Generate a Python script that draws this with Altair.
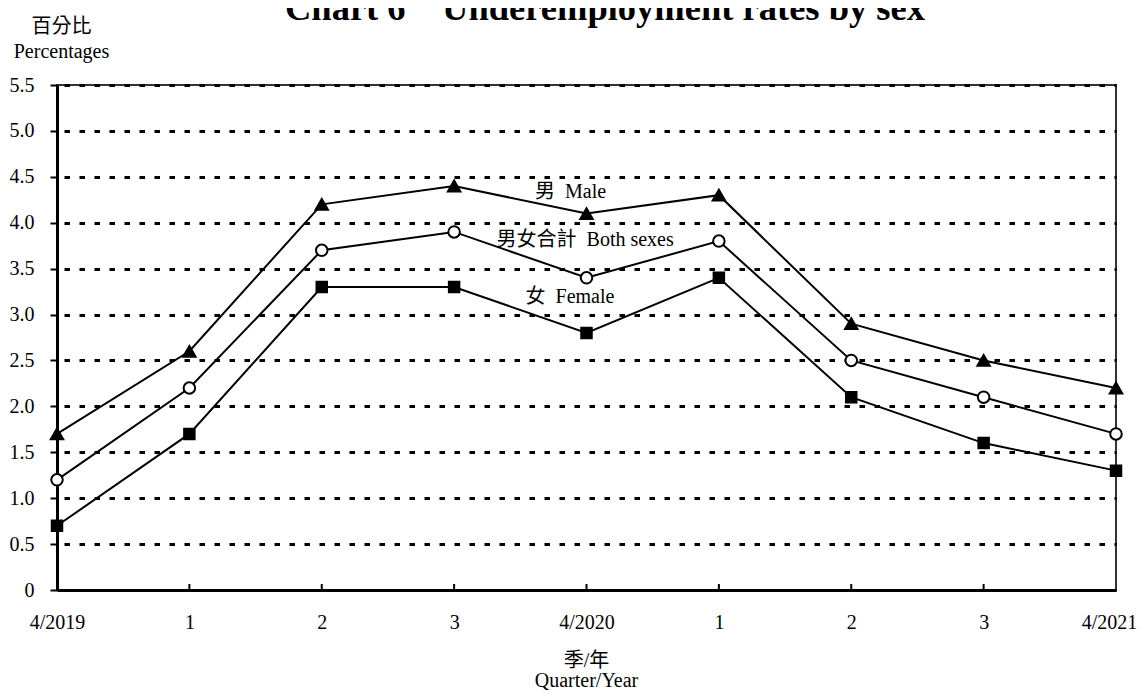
import json
import altair as alt
import pandas as pd

# ---- data ----
quarters = ["4/2019", "1", "2", "3", "4/2020", "1", "2", "3", "4/2021"]
male = [1.7, 2.6, 4.2, 4.4, 4.1, 4.3, 2.9, 2.5, 2.2]
both = [1.2, 2.2, 3.7, 3.9, 3.4, 3.8, 2.5, 2.1, 1.7]
female = [0.7, 1.7, 3.3, 3.3, 2.8, 3.4, 2.1, 1.6, 1.3]
series_names = ["Male", "Both sexes", "Female"]
y_ticks = [0, 0.5, 1.0, 1.5, 2.0, 2.5, 3.0, 3.5, 4.0, 4.5, 5.0, 5.5]

label_texts = ["男\u00a0\u00a0Male", "男女合計\u00a0\u00a0Both sexes", "女\u00a0\u00a0Female"]
label_x = [3.88, 3.99, 3.875]
label_y = [4.335, 3.81, 3.19]

title_text = "Chart 6\u00a0\u00a0\u00a0\u00a0Underemployment rates by sex"

FONT = "Liberation Serif, 'Noto Sans CJK TC', serif"
W, H = 1059, 505

idx = list(range(len(quarters)))
rows = []
for name, vals in zip(series_names, [male, both, female]):
    for i, v in zip(idx, vals):
        rows.append({"i": i, "v": v, "series": name})
df = pd.DataFrame(rows)
lab_df = pd.DataFrame({"x": label_x, "y": label_y, "t": label_texts})
tick_df = pd.DataFrame({"i": idx[1:-1]})

label_expr = json.dumps(quarters) + "[datum.value]"

x_enc = alt.X(
    "i:Q",
    scale=alt.Scale(domain=[0, len(quarters) - 1], nice=False, zero=False),
    axis=alt.Axis(
        values=idx,
        labelExpr=label_expr,
        labelFlush=False,
        labelOverlap=False,
        labelOffset={"condition": {"test": f"datum.value == {len(quarters) - 1}", "value": -7}, "value": 0},
        grid=False,
        ticks=False,
        tickSize=0,
        labelFontSize=20,
        labelFont=FONT,
        labelColor="black",
        labelBaseline="alphabetic",
        labelPadding=38,
        domainColor="black",
        domainWidth=3,
        title=["季/年", "Quarter/Year"],
        titleFont=FONT,
        titleFontSize=20,
        titleFontWeight="normal",
        titleColor="black",
        titleLineHeight=20,
        titleBaseline="alphabetic",
        titleX=529,
        titleY=76,
        titleAlign="center",
    ),
)
y_enc = alt.Y(
    "v:Q",
    scale=alt.Scale(domain=[0, 5.5], nice=False, zero=True),
    axis=alt.Axis(
        values=y_ticks,
        labelExpr="datum.value == 0 ? '0' : format(datum.value, '.1f')",
        grid=True,
        gridColor="black",
        gridWidth=3,
        gridDash=[5.5, 9.5],
        gridDashOffset=8,
        ticks=True,
        tickSize=7,
        tickWidth=2,
        tickColor="black",
        labelFontSize=20,
        labelFont=FONT,
        labelColor="black",
        labelPadding=16,
        domainColor="black",
        domainWidth=3,
        title=["百分比", "Percentages"],
        titleFont=FONT,
        titleFontSize=20,
        titleFontWeight="normal",
        titleColor="black",
        titleAngle=0,
        titleAlign="center",
        titleBaseline="alphabetic",
        titleLineHeight=25,
        titleX=4,
        titleY=-53,
    ),
)

base = alt.Chart(df)

lines = base.mark_line(color="black", strokeWidth=2).encode(
    x=x_enc, y=y_enc, detail="series:N"
)

points = base.mark_point(filled=True, stroke="black", strokeWidth=2, opacity=1).encode(
    x="i:Q",
    y="v:Q",
    shape=alt.Shape("series:N", scale=alt.Scale(domain=series_names,
                    range=["triangle-up", "circle", "square"]), legend=None),
    fill=alt.Fill("series:N", scale=alt.Scale(domain=series_names,
                  range=["black", "white", "black"]), legend=None),
    size=alt.Size("series:N", scale=alt.Scale(domain=series_names,
                  range=[155, 110, 140]), legend=None),
)

ticks = alt.Chart(tick_df).mark_rule(color="black", strokeWidth=2).encode(
    x="i:Q", y=alt.value(H), y2=alt.value(H - 6)
)

labels = alt.Chart(lab_df).mark_text(
    font=FONT, fontSize=20, color="black", align="center", baseline="middle"
).encode(x="x:Q", y="y:Q", text="t:N")

title = alt.Chart(pd.DataFrame({"t": [title_text]})).mark_text(
    font="Liberation Serif", fontSize=36.5, fontWeight="bold", color="black",
    align="center", baseline="alphabetic"
).encode(text="t:N", x=alt.value(548), y=alt.value(-65))

chart = alt.layer(lines, ticks, points, labels, title).properties(
    width=W,
    height=H,
    padding={"left": 49, "top": 77, "right": 21, "bottom": 100},
    autosize=alt.AutoSizeParams(type="none"),
).configure_view(stroke="#333", strokeWidth=2)

chart.save("out.html", embed_options={"renderer": "svg", "actions": False})
